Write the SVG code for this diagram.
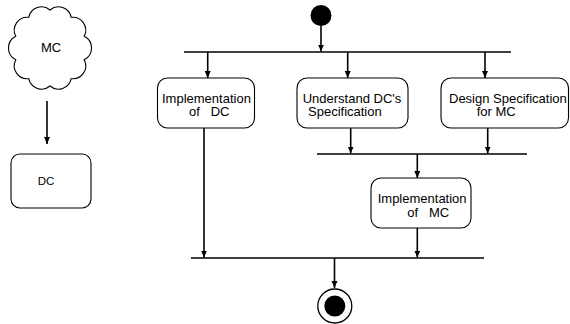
<svg xmlns="http://www.w3.org/2000/svg" width="570" height="324" viewBox="0 0 570 324">
  <style>
    .box { fill: #fff; stroke: #000; stroke-width: 1.1; }
    .bar { stroke: #000; stroke-width: 1.6; fill: none; }
    .flow { stroke: #000; stroke-width: 1.6; fill: none; marker-end: url(#arrow); }
    .label { font-family: "Liberation Sans", Arial, sans-serif; font-size: 13px; fill: #000; white-space: pre; }
  </style>
  <defs>
    <marker id="arrow" markerUnits="userSpaceOnUse" markerWidth="8" markerHeight="7" refX="7" refY="3" orient="auto">
      <path d="M0,0 L7,3 L0,6 z" fill="#000"/>
    </marker>
  </defs>

  <rect width="570" height="324" fill="#fff"/>

  <!-- left: cloud MC refines into DC -->
  <g id="mc-cloud">
    <path class="box" d="M50,10
      A13,13 0 0 1 71.2,17.3
      A13,13 0 0 1 84.2,36.3
      A13,13 0 0 1 84.2,59.7
      A13,13 0 0 1 71.2,78.7
      A13,13 0 0 1 50,86
      A13,13 0 0 1 28.8,78.7
      A13,13 0 0 1 15.8,59.7
      A13,13 0 0 1 15.8,36.3
      A13,13 0 0 1 28.8,17.3
      A13,13 0 0 1 50,10 Z"/>
    <text class="label" x="51" y="51.7" text-anchor="middle">MC</text>
  </g>
  <g id="dc">
    <rect class="box" x="11" y="154" width="80" height="54" rx="9"/>
    <text class="label" x="46" y="185" text-anchor="middle" style="font-size:11.5px">DC</text>
  </g>

  <!-- activity diagram nodes -->
  <g id="start">
    <circle cx="321" cy="15.5" r="10.5" fill="#000"/>
  </g>
  <g id="fork">
    <line class="bar" x1="184" y1="52" x2="511" y2="52"/>
  </g>
  <g id="impl-dc">
    <rect class="box" x="157.5" y="78" width="97" height="50" rx="10"/>
    <text class="label" x="162" y="102.5">Implementation</text>
    <text class="label" x="189" y="116">of   DC</text>
  </g>
  <g id="understand-dc-spec">
    <rect class="box" x="297" y="78" width="111" height="50" rx="10"/>
    <text class="label" x="302.7" y="102.5">Understand DC's</text>
    <text class="label" x="308" y="116">Specification</text>
  </g>
  <g id="design-spec-mc">
    <rect class="box" x="441" y="78" width="127.5" height="50" rx="10"/>
    <text class="label" x="449" y="102.5">Design Specification</text>
    <text class="label" x="476.7" y="116">for MC</text>
  </g>
  <g id="join-mc">
    <line class="bar" x1="317" y1="154" x2="527" y2="154"/>
  </g>
  <g id="impl-mc">
    <rect class="box" x="371" y="178" width="100" height="50" rx="10"/>
    <text class="label" x="377.7" y="202.7">Implementation</text>
    <text class="label" x="407.3" y="216.7">of   MC</text>
  </g>
  <g id="join-end">
    <line class="bar" x1="191" y1="258" x2="484" y2="258"/>
  </g>
  <g id="end">
    <circle cx="334.8" cy="306" r="17" fill="#fff" stroke="#000" stroke-width="1.3"/>
    <circle cx="334.8" cy="306" r="10.5" fill="#000"/>
  </g>

  <!-- connectors -->
  <g id="connectors">
    <line class="flow" x1="47" y1="101" x2="47" y2="144"/>
    <line class="flow" x1="321" y1="26" x2="321" y2="51.5"/>
    <line class="flow" x1="207.7" y1="52" x2="207.7" y2="78"/>
    <line class="flow" x1="347.7" y1="52" x2="347.7" y2="78"/>
    <line class="flow" x1="485" y1="52" x2="485" y2="78"/>
    <line class="flow" x1="350.7" y1="128" x2="350.7" y2="153.5"/>
    <line class="flow" x1="487.7" y1="128" x2="487.7" y2="153.5"/>
    <line class="flow" x1="417.3" y1="154" x2="417.3" y2="178"/>
    <line class="flow" x1="204" y1="128" x2="204" y2="257.5"/>
    <line class="flow" x1="417.3" y1="228" x2="417.3" y2="257.5"/>
    <line class="flow" x1="334.5" y1="258" x2="334.5" y2="288"/>
  </g>
</svg>
